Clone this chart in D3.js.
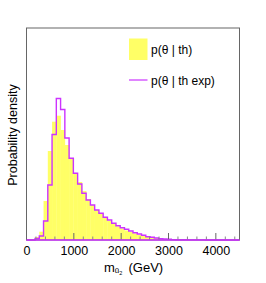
<!DOCTYPE html>
<html>
<head>
<meta charset="utf-8">
<script src="https://cdn.jsdelivr.net/npm/d3@7"></script>
<style>
  body { margin: 0; background: #fff; }
  text { font-family: "Liberation Sans", Arial, sans-serif; fill: #000; }
</style>
</head>
<body>
<div id="chart"></div>
<script>
var svgWidth = 266;
var svgHeight = 283;

var margin = { top: 28, right: 26.5, bottom: 43, left: 26.5 };
var width = svgWidth - margin.left - margin.right;
var height = svgHeight - margin.top - margin.bottom;

// histogram binning (GeV)
var binStart = 0;
var binWidth = 90;

// p(theta | th) - yellow filled histogram (arbitrary units)
var thValues = [
  0, 0.005, 0.03, 0.083, 0.39, 0.89, 1.183, 1.243, 1.10, 0.95,
  0.81, 0.67, 0.58, 0.49, 0.41, 0.35, 0.30, 0.26, 0.22, 0.19,
  0.16, 0.135, 0.115, 0.095, 0.08, 0.065, 0.05, 0.04, 0.03, 0.022,
  0.016, 0.011, 0.008, 0.005, 0.004, 0.003, 0.002, 0.002, 0.001, 0.001,
  0.001, 0.001, 0, 0, 0, 0, 0, 0, 0, 0
];

// p(theta | th exp) - magenta step line
var expValues = [
  0, 0, 0.015, 0.04, 0.19, 0.55, 1.055, 1.415, 1.305, 1.02,
  0.817, 0.667, 0.56, 0.467, 0.40, 0.35, 0.30, 0.267, 0.227, 0.20,
  0.167, 0.143, 0.123, 0.107, 0.09, 0.073, 0.06, 0.047, 0.033, 0.027,
  0.02, 0.013, 0.01, 0.007, 0.004, 0.003, 0.002, 0.002, 0.001, 0.001,
  0.001, 0.001, 0, 0, 0, 0, 0, 0, 0, 0
];

var xMajorTicks = [0, 1000, 2000, 3000, 4000];
var legendLabels = ["p(θ | th)", "p(θ | th exp)"];

var yellow = "#ffff66";
var magenta = "#cc33ff";

var svg = d3.select("#chart")
  .append("svg")
  .attr("width", svgWidth)
  .attr("height", svgHeight);

var chartGroup = svg.append("g")
  .attr("transform", `translate(${margin.left}, ${margin.top})`);

var xScale = d3.scaleLinear()
  .domain([0, 4500])
  .range([0, width]);

var yScale = d3.scaleLinear()
  .domain([0, 2.12])
  .range([height, 0]);

var thBins = thValues.map(function(v, i) {
  return { x0: binStart + i * binWidth, x1: binStart + (i + 1) * binWidth, v: v };
});
var expBins = expValues.map(function(v, i) {
  return { x0: binStart + i * binWidth, x1: binStart + (i + 1) * binWidth, v: v };
});

// yellow bars
chartGroup.selectAll("rect.th")
  .data(thBins)
  .enter()
  .append("rect")
  .attr("class", "th")
  .attr("x", d => xScale(d.x0))
  .attr("width", d => xScale(d.x1) - xScale(d.x0) + 0.3)
  .attr("y", d => yScale(d.v))
  .attr("height", d => height - yScale(d.v))
  .attr("fill", yellow);

// magenta step outline
var stepPts = [[0, 0]];
expBins.forEach(function(d) {
  stepPts.push([d.x0, d.v]);
  stepPts.push([d.x1, d.v]);
});
stepPts.push([4500, 0]);

chartGroup.append("path")
  .datum(stepPts)
  .attr("fill", "none")
  .attr("stroke", magenta)
  .attr("stroke-width", 1.4)
  .attr("d", d3.line().x(d => xScale(d[0])).y(d => yScale(d[1])));

// ticks pointing inward from bottom axis
var minorTicks = d3.range(0, 4500, 200).filter(t => t % 1000 !== 0);
var bottomAxis = d3.axisBottom(xScale)
  .tickValues(xMajorTicks)
  .tickSize(0)
  .tickPadding(6)
  .tickFormat(d3.format("d"));

var axisG = chartGroup.append("g")
  .attr("transform", `translate(0, ${height})`)
  .call(bottomAxis);
axisG.select(".domain").remove();
axisG.selectAll("text")
  .attr("font-size", "12.5px")
  .attr("font-family", "Liberation Sans, Arial, sans-serif")
  .attr("fill", "#000");

chartGroup.selectAll("line.major")
  .data(xMajorTicks)
  .enter()
  .append("line")
  .attr("x1", d => xScale(d)).attr("x2", d => xScale(d))
  .attr("y1", height).attr("y2", height - 7)
  .attr("stroke", "#666");

chartGroup.selectAll("line.minor")
  .data(minorTicks)
  .enter()
  .append("line")
  .attr("x1", d => xScale(d)).attr("x2", d => xScale(d))
  .attr("y1", height).attr("y2", height - 3.5)
  .attr("stroke", "#888");

// frame
chartGroup.append("rect")
  .attr("width", width)
  .attr("height", height)
  .attr("fill", "none")
  .attr("stroke", "#666")
  .attr("stroke-width", 1);

// redraw baseline of histogram over frame
chartGroup.append("line")
  .attr("x1", 0).attr("x2", width)
  .attr("y1", height).attr("y2", height)
  .attr("stroke", magenta)
  .attr("stroke-width", 1.4);

// legend
var legend = svg.append("g");
legend.append("rect")
  .attr("x", 129).attr("y", 38.5)
  .attr("width", 18.5).attr("height", 21.5)
  .attr("fill", yellow);
legend.append("text")
  .attr("x", 151).attr("y", 53.5)
  .attr("font-size", "12px")
  .text(legendLabels[0]);
legend.append("line")
  .attr("x1", 129).attr("x2", 147.5)
  .attr("y1", 80).attr("y2", 80)
  .attr("stroke", magenta)
  .attr("stroke-width", 1.2);
legend.append("text")
  .attr("x", 151).attr("y", 84.5)
  .attr("font-size", "12px")
  .text(legendLabels[1]);

// axis titles
svg.append("text")
  .attr("transform", "translate(17, 135) rotate(-90)")
  .attr("text-anchor", "middle")
  .attr("font-size", "12.5px")
  .text("Probability density");

var xTitle = svg.append("text")
  .attr("x", 104)
  .attr("y", 271.5)
  .attr("font-size", "13px");
xTitle.append("tspan").text("m");
xTitle.append("tspan").attr("font-size", "8px").attr("dy", 1.5).text("ũ");
xTitle.append("tspan").attr("font-size", "5.5px").attr("dy", 2).text("2");
xTitle.append("tspan").attr("dy", -3.5).attr("dx", 2.5).text(" (GeV)");
</script>
</body>
</html>
